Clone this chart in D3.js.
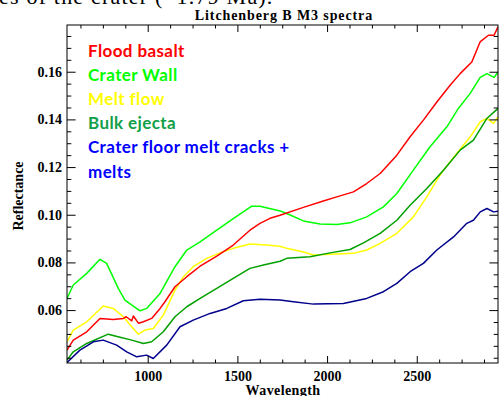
<!DOCTYPE html>
<html>
<head>
<meta charset="utf-8">
<script src="https://cdn.jsdelivr.net/npm/d3@7"></script>
<style>
  html, body { margin: 0; padding: 0; background: #fff; }
  svg { display: block; }
</style>
</head>
<body>
<div id="chart"></div>
<script>
// --- data ---
const floodWl = [550, 585, 660, 734, 808, 864, 880, 911, 920, 948, 976, 1022, 1069, 1096, 1152, 1218, 1292, 1385, 1477, 1570, 1626, 1682, 1738, 1868, 1979, 2054, 2147, 2221, 2296, 2389, 2463, 2537, 2612, 2686, 2742, 2807, 2853, 2900, 2931, 2953];
const floodRef = [0.0432, 0.0474, 0.0509, 0.0565, 0.0561, 0.0565, 0.0572, 0.0555, 0.0575, 0.0545, 0.0551, 0.0565, 0.0607, 0.0635, 0.0698, 0.0740, 0.0784, 0.0826, 0.0873, 0.0935, 0.0964, 0.0985, 0.0998, 0.1031, 0.1058, 0.1075, 0.1096, 0.1131, 0.1173, 0.1250, 0.1327, 0.1397, 0.1473, 0.1543, 0.1592, 0.1641, 0.1725, 0.1753, 0.1753, 0.1788];

const wallWl = [550, 585, 660, 734, 771, 836, 873, 957, 994, 1069, 1152, 1218, 1292, 1385, 1477, 1580, 1626, 1738, 1775, 1868, 1961, 2054, 2128, 2221, 2314, 2389, 2481, 2574, 2668, 2732, 2798, 2854, 2891, 2931, 2953];
const wallRef = [0.0649, 0.0705, 0.0754, 0.0813, 0.0796, 0.0691, 0.0642, 0.0597, 0.0607, 0.0670, 0.0782, 0.0852, 0.0886, 0.0935, 0.0984, 0.1036, 0.1036, 0.1016, 0.1005, 0.0974, 0.0961, 0.0959, 0.0966, 0.0991, 0.1033, 0.1089, 0.1187, 0.1285, 0.1369, 0.1446, 0.1509, 0.1576, 0.1592, 0.1576, 0.1599];

const meltWl = [550, 585, 660, 752, 808, 864, 911, 948, 985, 1031, 1087, 1152, 1199, 1254, 1329, 1403, 1477, 1570, 1664, 1738, 1775, 1868, 1924, 2054, 2147, 2221, 2296, 2389, 2481, 2556, 2612, 2649, 2723, 2798, 2854, 2891, 2928, 2953];
const meltRef = [0.0467, 0.0516, 0.0551, 0.0617, 0.0607, 0.0572, 0.0530, 0.0499, 0.0516, 0.0523, 0.0579, 0.0684, 0.0740, 0.0782, 0.0817, 0.0840, 0.0859, 0.0877, 0.0873, 0.0868, 0.0859, 0.0844, 0.0831, 0.0835, 0.0838, 0.0852, 0.0880, 0.0922, 0.0991, 0.1075, 0.1145, 0.1187, 0.1257, 0.1327, 0.1390, 0.1404, 0.1383, 0.1411];

const ejectaWl = [550, 585, 660, 780, 846, 911, 976, 1022, 1087, 1152, 1218, 1292, 1385, 1477, 1570, 1645, 1738, 1775, 1905, 2017, 2128, 2203, 2296, 2389, 2463, 2556, 2649, 2742, 2816, 2891, 2953];
const ejectaRef = [0.0390, 0.0425, 0.0460, 0.0499, 0.0486, 0.0474, 0.0460, 0.0467, 0.0509, 0.0572, 0.0614, 0.0649, 0.0691, 0.0733, 0.0775, 0.0789, 0.0805, 0.0817, 0.0824, 0.0840, 0.0854, 0.0882, 0.0922, 0.0977, 0.1040, 0.1110, 0.1187, 0.1271, 0.1313, 0.1404, 0.1446];

const floorWl = [550, 622, 697, 752, 827, 883, 939, 994, 1031, 1106, 1180, 1254, 1348, 1441, 1533, 1626, 1738, 1812, 1924, 2091, 2221, 2314, 2389, 2463, 2537, 2612, 2705, 2779, 2816, 2854, 2891, 2928, 2953];
const floorRef = [0.0380, 0.0432, 0.0467, 0.0474, 0.0453, 0.0425, 0.0404, 0.0411, 0.0397, 0.0453, 0.0530, 0.0558, 0.0586, 0.0607, 0.0639, 0.0645, 0.0642, 0.0635, 0.0625, 0.0628, 0.0649, 0.0677, 0.0712, 0.0761, 0.0796, 0.0852, 0.0907, 0.0964, 0.0977, 0.1012, 0.1026, 0.1012, 0.1015];

const legendLabels = ["Flood basalt", "Crater Wall", "Melt flow", "Bulk ejecta", "Crater floor melt cracks +", "melts"];
const xMajorTicks = [1000, 1500, 2000, 2500];
const xMinorTicks = [625, 750, 875, 1125, 1250, 1375, 1625, 1750, 1875, 2125, 2250, 2375, 2625, 2750, 2875];
const yMajorTicks = [0.06, 0.08, 0.10, 0.12, 0.14, 0.16];
const yMinorTicks = [0.04, 0.045, 0.05, 0.055, 0.065, 0.07, 0.075, 0.085, 0.09, 0.095, 0.105, 0.11, 0.115, 0.125, 0.13, 0.135, 0.145, 0.15, 0.155, 0.165, 0.17, 0.175];

const series = [
  { wl: wallWl, ref: wallRef, color: "#00ff00" },
  { wl: meltWl, ref: meltRef, color: "#ffff00" },
  { wl: floodWl, ref: floodRef, color: "#ff0000" },
  { wl: ejectaWl, ref: ejectaRef, color: "#00a000" },
  { wl: floorWl, ref: floorRef, color: "#00008c" }
];
const legendColors = ["#ff0000", "#00ff00", "#ffff00", "#10a048", "#0000ff", "#0000ff"];

// --- layout ---
const width = 499, height = 396;
const margin = { top: 25, right: 1, bottom: 33, left: 67 };
const w = width - margin.left - margin.right;
const h = height - margin.top - margin.bottom;
const serif = "'Liberation Serif', 'DejaVu Serif', serif";

const svg = d3.select("#chart").append("svg")
  .attr("width", width).attr("height", height);

// caption line of the page above, cut off by the picture's top edge
svg.append("text")
  .attr("x", -1).attr("y", 4)
  .style("font-family", serif).style("font-size", "22px")
  .style("letter-spacing", "1.2px")
  .text("es of the crater (~1.79 Ma).");

svg.append("text")
  .attr("x", 284).attr("y", 19.5)
  .attr("text-anchor", "middle")
  .style("font-family", serif).style("font-size", "14px").style("font-weight", "bold")
  .style("letter-spacing", "0.9px")
  .text("Litchenberg B M3 spectra");

const g = svg.append("g").attr("transform", `translate(${margin.left},${margin.top})`);

const x = d3.scaleLinear().domain([550, 2953]).range([0, w]);
const y = d3.scaleLinear().domain([0.0378, 0.1796]).range([h, 0]);

g.append("clipPath").attr("id", "plotClip")
  .append("rect").attr("width", w).attr("height", h);

// Lines
const line = d3.line()
  .x(d => x(d[0]))
  .y(d => y(d[1]));

series.forEach(s => {
  g.append("path")
    .datum(d3.zip(s.wl, s.ref))
    .attr("clip-path", "url(#plotClip)")
    .attr("fill", "none")
    .attr("stroke", s.color)
    .attr("stroke-width", 1.5)
    .attr("stroke-linejoin", "round")
    .attr("d", line);
});

// Axes (ticks point inward, mirrored on top/right)
const xLen = 7, yLen = 8.6;
function styleAxis(sel) {
  sel.selectAll("text").style("font-family", serif).style("font-size", "14px")
    .style("font-weight", "bold").style("fill", "#000");
  sel.selectAll("line").attr("stroke", "#000");
}

g.append("g").attr("transform", `translate(0,${h})`)
  .call(d3.axisBottom(x).tickValues(xMajorTicks).tickSizeInner(-xLen).tickSizeOuter(0).tickPadding(8).tickFormat(d3.format("d")))
  .call(styleAxis);
g.append("g").attr("transform", `translate(0,${h})`)
  .call(d3.axisBottom(x).tickValues(xMinorTicks).tickSizeInner(-xLen / 2).tickSizeOuter(0).tickFormat(""))
  .call(styleAxis);
g.append("g")
  .call(d3.axisTop(x).tickValues(xMajorTicks).tickSizeInner(-xLen).tickSizeOuter(0).tickFormat(""))
  .call(styleAxis);
g.append("g")
  .call(d3.axisTop(x).tickValues(xMinorTicks).tickSizeInner(-xLen / 2).tickSizeOuter(0).tickFormat(""))
  .call(styleAxis);

g.append("g")
  .call(d3.axisLeft(y).tickValues(yMajorTicks).tickSizeInner(-yLen).tickSizeOuter(0).tickPadding(5).tickFormat(d3.format(".2f")))
  .call(styleAxis);
g.append("g")
  .call(d3.axisLeft(y).tickValues(yMinorTicks).tickSizeInner(-yLen / 2).tickSizeOuter(0).tickFormat(""))
  .call(styleAxis);
g.append("g").attr("transform", `translate(${w},0)`)
  .call(d3.axisRight(y).tickValues(yMajorTicks).tickSizeInner(-yLen).tickSizeOuter(0).tickFormat(""))
  .call(styleAxis);
g.append("g").attr("transform", `translate(${w},0)`)
  .call(d3.axisRight(y).tickValues(yMinorTicks).tickSizeInner(-yLen / 2).tickSizeOuter(0).tickFormat(""))
  .call(styleAxis);
g.selectAll(".domain").remove();

g.append("rect")
  .attr("x", 0).attr("y", 0).attr("width", w).attr("height", h)
  .attr("fill", "none").attr("stroke", "#000").attr("stroke-width", 1);

// Axis titles
svg.append("text")
  .attr("x", 283).attr("y", 394.5)
  .attr("text-anchor", "middle")
  .style("font-family", serif).style("font-size", "14px").style("font-weight", "bold")
  .style("letter-spacing", "0.4px")
  .text("Wavelength");

svg.append("text")
  .attr("transform", "translate(23,196) rotate(-90)")
  .attr("text-anchor", "middle")
  .style("font-family", serif).style("font-size", "14px").style("font-weight", "bold")
  .text("Reflectance");

// Legend text
svg.append("g").selectAll("text")
  .data(legendLabels).enter().append("text")
  .attr("x", 88)
  .attr("y", (d, i) => 56.5 + i * 24.2)
  .style("font-family", "Lato, 'Open Sans', sans-serif")
  .style("font-size", "17px").style("font-weight", "bold")
  .style("letter-spacing", "0.4px")
  .style("fill", (d, i) => legendColors[i])
  .text(d => d);
</script>
</body>
</html>
